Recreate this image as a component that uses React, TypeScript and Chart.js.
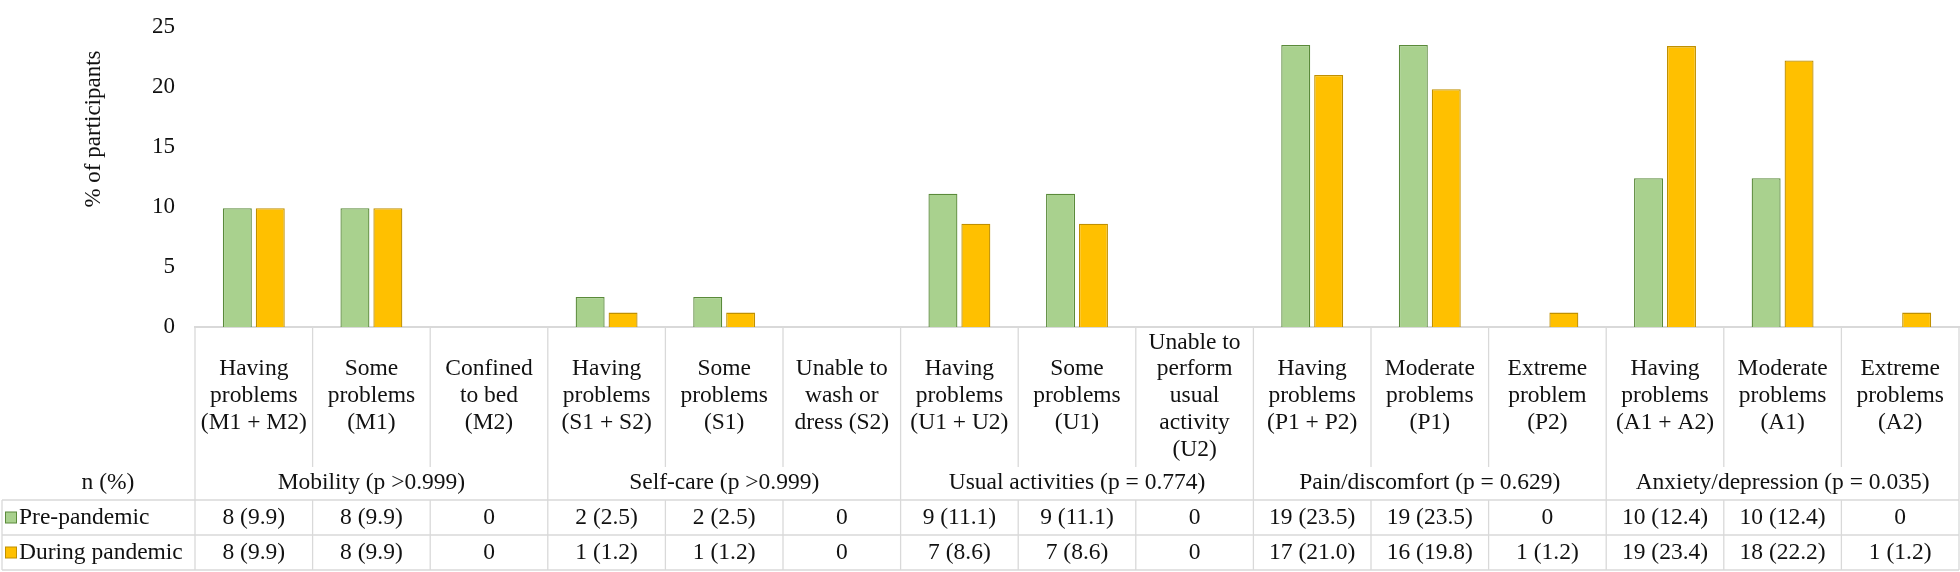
import React, { useEffect, useRef } from "react";
import { Chart, registerables } from "chart.js";

Chart.register(...registerables);

const categoryLabels: string[][] = [
  ["Having", "problems", "(M1 + M2)"],
  ["Some", "problems", "(M1)"],
  ["Confined", "to bed", "(M2)"],
  ["Having", "problems", "(S1 + S2)"],
  ["Some", "problems", "(S1)"],
  ["Unable to", "wash or", "dress (S2)"],
  ["Having", "problems", "(U1 + U2)"],
  ["Some", "problems", "(U1)"],
  ["Unable to", "perform", "usual", "activity", "(U2)"],
  ["Having", "problems", "(P1 + P2)"],
  ["Moderate", "problems", "(P1)"],
  ["Extreme", "problem", "(P2)"],
  ["Having", "problems", "(A1 + A2)"],
  ["Moderate", "problems", "(A1)"],
  ["Extreme", "problems", "(A2)"],
];

const groupLabels: string[] = [
  "Mobility (p >0.999)",
  "Self-care (p >0.999)",
  "Usual activities (p = 0.774)",
  "Pain/discomfort (p = 0.629)",
  "Anxiety/depression (p = 0.035)",
];

const seriesNames: string[] = ["Pre-pandemic", "During pandemic"];

const preCounts: number[] = [8, 8, 0, 2, 2, 0, 9, 9, 0, 19, 19, 0, 10, 10, 0];
const prePct: number[] = [9.9, 9.9, 0, 2.5, 2.5, 0, 11.1, 11.1, 0, 23.5, 23.5, 0, 12.4, 12.4, 0];
const duringCounts: number[] = [8, 8, 0, 1, 1, 0, 7, 7, 0, 17, 16, 1, 19, 18, 1];
const duringPct: number[] = [9.9, 9.9, 0, 1.2, 1.2, 0, 8.6, 8.6, 0, 21.0, 19.8, 1.2, 23.4, 22.2, 1.2];

const yTicks: number[] = [0, 5, 10, 15, 20, 25];

const FONT = "'Liberation Serif', 'Times New Roman', serif";
const TEXT = "#111111";
const LINE = "#d9d9d9";
const GREEN = "#a9d18e";
const GREEN_BORDER = "#5a8a3a";
const GOLD = "#ffc000";
const GOLD_BORDER = "#c09000";

const cell = (n: number, p: number) => (n === 0 ? "0" : `${n} (${p.toFixed(1)})`);

const tablePlugin = {
  id: "dataTable",
  afterDraw(chart: any) {
    const { ctx, chartArea } = chart;
    const x = chart.scales.x;
    const n = categoryLabels.length;
    const centers = categoryLabels.map((_, i) => x.getPixelForValue(i));
    const w = centers[1] - centers[0];
    const L = centers[0] - w / 2;
    const axisY = chartArea.bottom;
    const labelMid = axisY + 69;
    const stopY = axisY + 140;
    const groupY = axisY + 156;
    const row1 = axisY + 173;
    const row2 = axisY + 208;
    const bottom = axisY + 243;
    const leftX = 2;

    ctx.save();
    ctx.strokeStyle = LINE;
    ctx.lineWidth = 1.3;
    const line = (x1: number, y1: number, x2: number, y2: number) => {
      ctx.beginPath();
      ctx.moveTo(x1, y1);
      ctx.lineTo(x2, y2);
      ctx.stroke();
    };
    // horizontal lines
    const R = L + n * w;
    line(leftX, row1, R, row1);
    line(leftX, row2, R, row2);
    line(leftX, bottom, R, bottom);
    // left border of legend column
    line(leftX, row1, leftX, bottom);
    // vertical lines
    line(L, axisY, L, bottom);
    for (let k = 1; k <= n; k++) {
      const bx = L + k * w;
      if (k % 3 === 0) {
        line(bx, axisY, bx, bottom);
      } else {
        line(bx, axisY, bx, stopY);
        line(bx, row1, bx, bottom);
      }
    }

    ctx.fillStyle = TEXT;
    ctx.font = `23.5px ${FONT}`;
    ctx.textAlign = "center";
    ctx.textBaseline = "middle";
    const lh = 26.8;
    categoryLabels.forEach((lines, i) => {
      const start = labelMid - ((lines.length - 1) * lh) / 2;
      lines.forEach((t, j) => ctx.fillText(t, centers[i], start + j * lh));
    });
    groupLabels.forEach((g, gi) => {
      const cx = (centers[gi * 3] + centers[gi * 3 + 2]) / 2;
      ctx.fillText(g, cx, groupY);
    });
    const r1 = (row1 + row2) / 2;
    const r2 = (row2 + bottom) / 2;
    for (let i = 0; i < n; i++) {
      ctx.fillText(cell(preCounts[i], prePct[i]), centers[i], r1);
      ctx.fillText(cell(duringCounts[i], duringPct[i]), centers[i], r2);
    }
    ctx.fillText("n (%)", 108, groupY);

    // legend keys
    ctx.textAlign = "left";
    const keys = [
      { fill: GREEN, stroke: GREEN_BORDER, y: r1 },
      { fill: GOLD, stroke: GOLD_BORDER, y: r2 },
    ];
    keys.forEach((k, i) => {
      ctx.fillStyle = k.fill;
      ctx.fillRect(5.5, k.y - 5.5, 11, 11);
      ctx.strokeStyle = k.stroke;
      ctx.lineWidth = 1;
      ctx.strokeRect(5.5, k.y - 5.5, 11, 11);
      ctx.fillStyle = TEXT;
      ctx.fillText(seriesNames[i], 19, k.y);
    });

    // y-axis title
    ctx.save();
    ctx.translate(94, 129);
    ctx.rotate(-Math.PI / 2);
    ctx.textAlign = "center";
    ctx.textBaseline = "middle";
    ctx.font = `23px ${FONT}`;
    ctx.fillText("% of participants", 0, 0);
    ctx.restore();
    ctx.restore();
  },
};

export default function App() {
  const ref = useRef<HTMLCanvasElement>(null);
  useEffect(() => {
    if (!ref.current) return;
    const chart = new Chart(ref.current, {
      type: "bar",
      data: {
        labels: categoryLabels.map((l) => l.join(" ")),
        datasets: [
          {
            label: seriesNames[0],
            data: prePct,
            backgroundColor: GREEN,
            borderColor: GREEN_BORDER,
            borderWidth: 1.3,
            categoryPercentage: 0.56,
            barPercentage: 0.88,
          },
          {
            label: seriesNames[1],
            data: duringPct,
            backgroundColor: GOLD,
            borderColor: GOLD_BORDER,
            borderWidth: 1.3,
            categoryPercentage: 0.56,
            barPercentage: 0.88,
          },
        ],
      },
      options: {
        animation: false,
        responsive: false,
        devicePixelRatio: 1,
        layout: { padding: { top: 7, right: 1, left: 0, bottom: 0 } },
        plugins: {
          legend: { display: false },
          tooltip: { enabled: false },
          title: { display: false },
        },
        scales: {
          x: {
            grid: { display: false },
            ticks: { display: false },
            border: { display: true, color: LINE, width: 2 },
            afterFit: (s: any) => {
              s.height = 245;
            },
          },
          y: {
            min: 0,
            max: 25,
            afterBuildTicks: (s: any) => {
              s.ticks = yTicks.map((v) => ({ value: v }));
            },
            grid: { display: false, drawTicks: false },
            border: { display: false },
            ticks: {
              padding: 20,
              color: TEXT,
              font: { family: FONT, size: 23, lineHeight: 0.6 },
            },
            afterFit: (s: any) => {
              s.width = 195;
            },
          },
        },
      },
      plugins: [tablePlugin],
    });
    return () => chart.destroy();
  }, []);
  return (
    <div style={{ position: "absolute", left: 0, top: 0, width: 1960, height: 572, background: "#fff" }}>
      <canvas ref={ref} width={1960} height={572} style={{ display: "block" }} />
    </div>
  );
}
